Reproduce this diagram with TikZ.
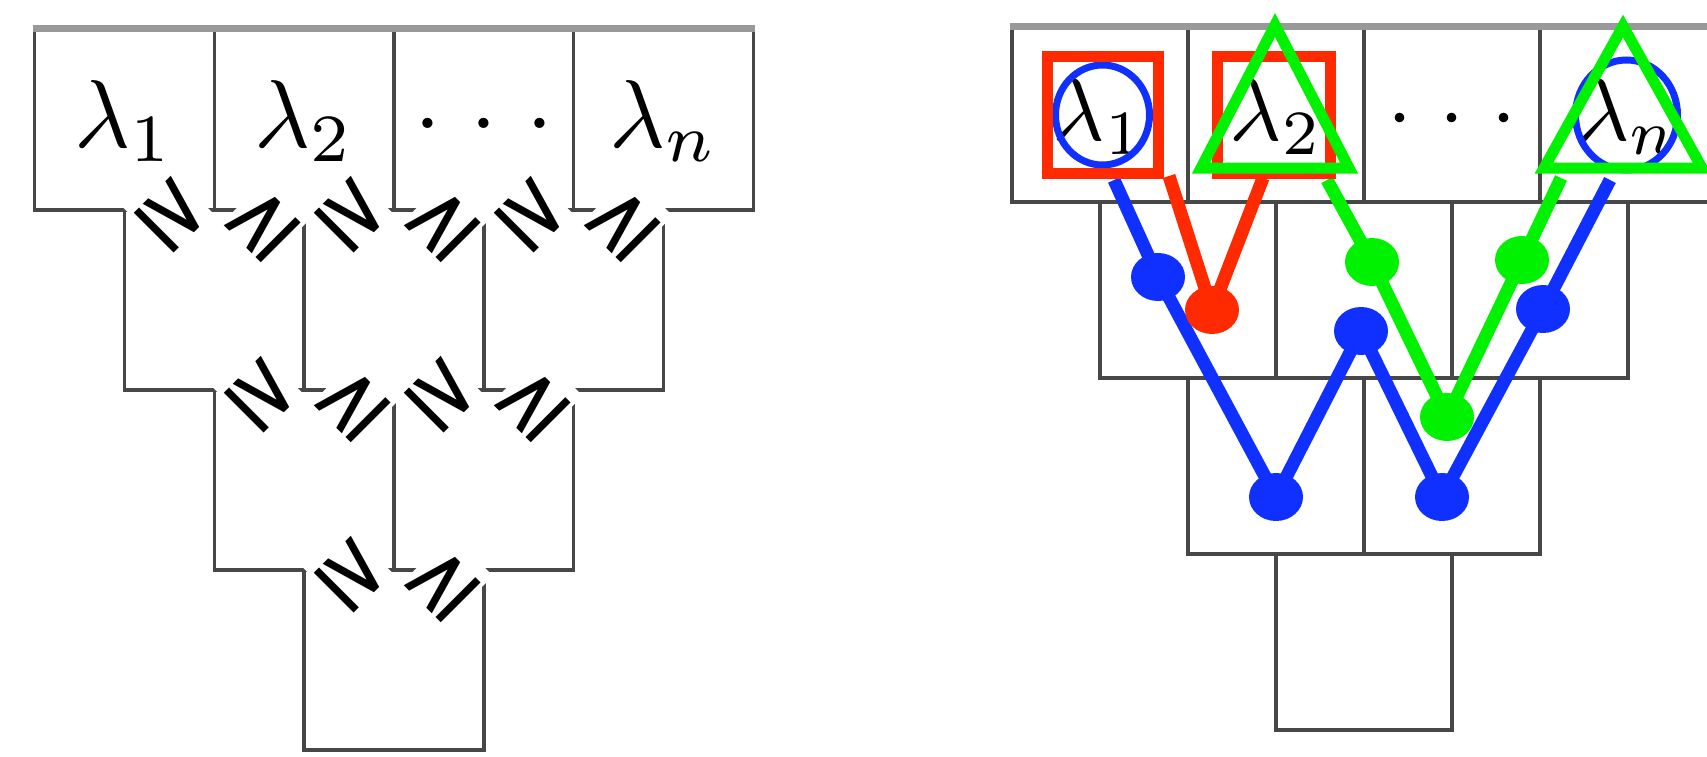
\documentclass[tikz,border=0pt]{standalone}
\usepackage{fontspec}
\newfontfamily\relfont{DejaVu Sans}
\usetikzlibrary{shapes.geometric}
\definecolor{pblue}{RGB}{16,48,255}
\definecolor{pred}{RGB}{255,42,0}
\definecolor{pgreen}{RGB}{0,242,0}
\begin{document}
\begin{tikzpicture}[x=1pt,y=-1pt,
  cellL/.style={draw=black!72, line width=3.4, minimum width=179.75, minimum height=180, inner sep=0pt},
  cellR/.style={draw=black!72, line width=3.4, minimum width=176, minimum height=176, inner sep=0pt},
  topedge/.style={draw=black!40, line width=7},
  lamL/.style={scale=9.65, inner sep=0pt, anchor=base},
  lamR/.style={scale=9.0, inner sep=0pt, anchor=base},
  rel/.style={scale=9.0, fill=white, inner sep=0.4pt, font=\relfont},
  pline/.style={line width=13, line join=round},
  pdot/.style={ellipse, draw=none, minimum width=54, minimum height=48, inner sep=0pt},
]
\useasboundingbox (0,0) rectangle (1707,757);
\clip (0,0) rectangle (1707,757);

% ---------- left pattern ----------
\node[cellL] (La1) at (124.4,120) {};
\node[cellL] (La2) at (304.1,120) {};
\node[cellL] (La3) at (483.9,120) {};
\node[cellL] (La4) at (663.6,120) {};
\node[cellL] (Lb1) at (214.25,300) {};
\node[cellL] (Lb2) at (394,300) {};
\node[cellL] (Lb3) at (573.75,300) {};
\node[cellL] (Lc1) at (304.1,480) {};
\node[cellL] (Lc2) at (483.9,480) {};
\node[cellL] (Ld1) at (394,660) {};
\draw[topedge] (La1.north west) -- (La4.north east);

\node[lamL] (tL1) at (124.4,147) {$\lambda_1$};
\node[lamL] (tL2) at (304.1,147) {$\lambda_2$};
\node[lamL] (tL3) at (483.9,147) {$\cdotp\mkern2.5mu\cdotp\mkern2.5mu\cdotp$};
\node[lamL] (tL4) at (663.6,147) {$\lambda_n$};

\node[rel, rotate=-45] (g11) at (172.8,215) {≥};
\node[rel, rotate=45]  (g12) at (263,224) {≥};
\node[rel, rotate=-45] (g13) at (352.5,215) {≥};
\node[rel, rotate=45]  (g14) at (442.8,224) {≥};
\node[rel, rotate=-45] (g15) at (532.3,215) {≥};
\node[rel, rotate=45]  (g16) at (622.5,224) {≥};
\node[rel, rotate=-45] (g21) at (262.5,395) {≥};
\node[rel, rotate=45]  (g22) at (352.8,404) {≥};
\node[rel, rotate=-45] (g23) at (442.3,395) {≥};
\node[rel, rotate=45]  (g24) at (532.5,404) {≥};
\node[rel, rotate=-45] (g31) at (352.5,575) {≥};
\node[rel, rotate=45]  (g32) at (442.8,584) {≥};

% ---------- right pattern ----------
\node[cellR, minimum height=174] (Ra1) at (1100,115) {};
\node[cellR, minimum height=174] (Ra2) at (1276,115) {};
\node[cellR, minimum height=174] (Ra3) at (1452,115) {};
\node[cellR, minimum height=174] (Ra4) at (1628,115) {};
\node[cellR] (Rb1) at (1188,290) {};
\node[cellR] (Rb2) at (1364,290) {};
\node[cellR] (Rb3) at (1540,290) {};
\node[cellR] (Rc1) at (1276,466) {};
\node[cellR] (Rc2) at (1452,466) {};
\node[cellR] (Rd1) at (1364,642) {};
\draw[topedge] (Ra1.north west) -- (Ra4.north east);

\node[lamR] (tR1) at (1099,141) {$\lambda_1$};
\node[lamR] (tR2) at (1276,141) {$\lambda_2$};
\node[lamR] (tR3) at (1452,141) {$\cdotp\mkern2.5mu\cdotp\mkern2.5mu\cdotp$};
\node[lamR] (tR4) at (1628,141) {$\lambda_n$};

% path points
\coordinate (bs) at (1114,180);
\coordinate (b1) at (1158,277);
\coordinate (b2) at (1276,497);
\coordinate (b3) at (1361,331);
\coordinate (b4) at (1442,497);
\coordinate (b5) at (1543,309);
\coordinate (be) at (1610,180);
\coordinate (rs) at (1169,176);
\coordinate (r1) at (1212,310);
\coordinate (re) at (1263,178);
\coordinate (gs) at (1327,180);
\coordinate (g1) at (1372,262);
\coordinate (g2) at (1447,417);
\coordinate (g3) at (1522,260);
\coordinate (ge) at (1561,178);

\draw[pline, pblue] (bs) -- (b1) -- (b2) -- (b3) -- (b4) -- (b5) -- (be);
\foreach \p in {b1,b2,b3,b4,b5} \node[pdot, fill=pblue] (d\p) at (\p) {};
\draw[pline, pred] (rs) -- (r1) -- (re);
\node[pdot, fill=pred] (dr1) at (r1) {};
\draw[pline, pgreen] (gs) -- (g1) -- (g2) -- (g3) -- (ge);
\foreach \p in {g1,g2,g3} \node[pdot, fill=pgreen] (d\p) at (\p) {};

% markers
\draw[pblue, line width=7] (1102.5,115) ellipse [x radius=47, y radius=50];
\draw[pblue, line width=7] (1626.5,115) ellipse [x radius=51, y radius=55];
\draw[pred, line width=11] (1047,57) rectangle (1158,173);
\draw[pred, line width=11] (1217,57) rectangle (1330,173);
\draw[pgreen, line width=11] (1275,25) -- (1349,168) -- (1201,168) -- cycle;
\draw[pgreen, line width=11] (1623,26) -- (1702,168) -- (1544,168) -- cycle;
\end{tikzpicture}
\end{document}
